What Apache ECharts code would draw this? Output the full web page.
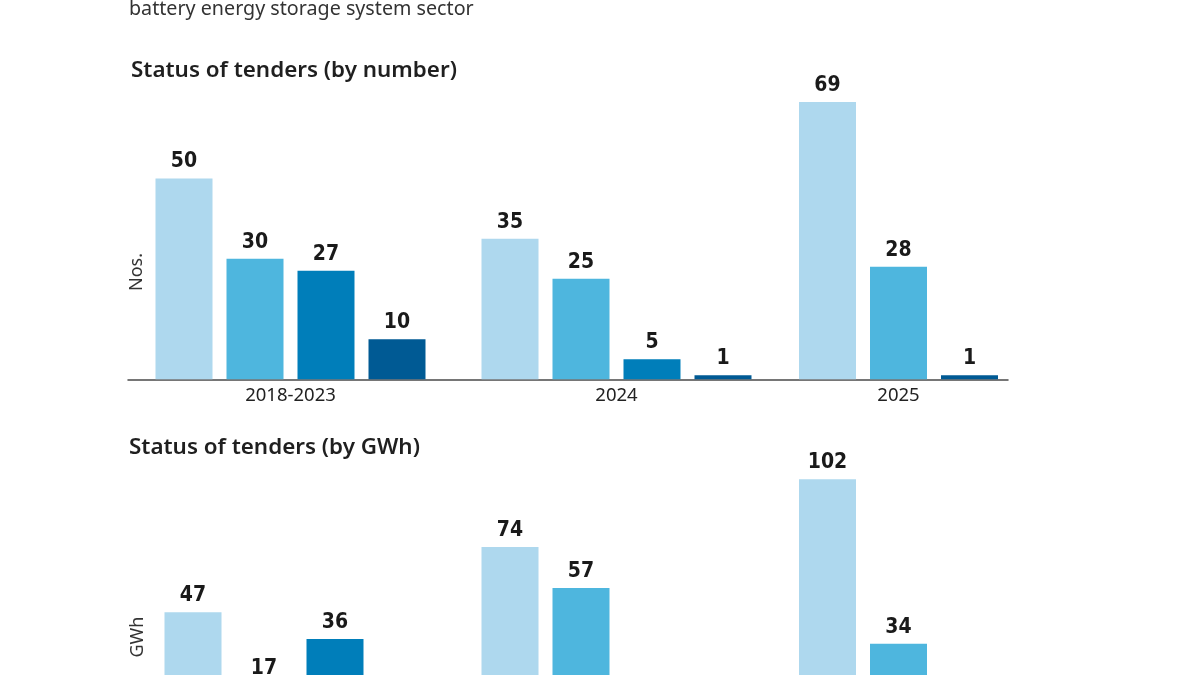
<!DOCTYPE html>
<html>
<head>
<meta charset="utf-8">
<script src="https://cdn.jsdelivr.net/npm/echarts@6/dist/echarts.min.js"></script>
<style>
html,body{margin:0;padding:0;background:#fff;}
#chart{width:1200px;height:675px;}
</style>
</head>
<body>
<div id="chart"></div>
<script>
// ---- data ----
const groups = ['2018-2023', '2024', '2025'];
const statusColors = ['#aed8ee', '#4eb6de', '#007eba', '#005a94'];
// Status of tenders (by number)
const numStatus1 = [50, 35, 69];
const numStatus2 = [30, 25, 28];
const numStatus3 = [27, 5, null];
const numStatus4 = [10, 1, 1];
// Status of tenders (by GWh) - lower values cut off in the picture are estimates
const gwhStatus1 = [47, 74, 102];
const gwhStatus2 = [17, 57, 34];
const gwhStatus3 = [36, 9, null];
const gwhStatus4 = [6, 2, 2];

const subtitleText = 'battery energy storage system sector';
const title1 = 'Status of tenders (by number)';
const title2 = 'Status of tenders (by GWh)';
const yName1 = 'Nos.';
const yName2 = 'GWh';

// ---- layout ----
const panels = [
  { series: [numStatus1, numStatus2, numStatus3, numStatus4], top: 78, height: 301.3, max: 75, centers: [290.5, 616.5, 898.5] },
  { series: [gwhStatus1, gwhStatus2, gwhStatus3, gwhStatus4], top: 459.8, height: 266.2, max: 110, centers: [299.5, 616.5, 898.5] }
];

const grids = [], xAxes = [], yAxes = [], series = [];

panels.forEach(function (p) {
  const fi = grids.length;
  grids.push({ left: 128, width: 880, top: p.top, height: p.height, containLabel: false, outerBoundsMode: 'none' });
  xAxes.push({ type: 'category', gridIndex: fi, data: [''], axisTick: { show: false }, axisLabel: { show: false },
    axisLine: { show: true, lineStyle: { color: '#4a4a4a', width: 1.5 } }, splitLine: { show: false } });
  yAxes.push({ type: 'value', gridIndex: fi, min: 0, max: p.max, show: false });

  groups.forEach(function (g, gi) {
    const idx = grids.length;
    grids.push({ left: p.centers[gi] - 150, width: 300, top: p.top, height: p.height, containLabel: false, outerBoundsMode: 'none' });
    xAxes.push({ type: 'category', gridIndex: idx, data: [g],
      axisTick: { show: false }, axisLine: { show: false },
      axisLabel: { show: true, margin: 7, fontSize: 18.5, color: '#222', fontFamily: "'Noto Sans', sans-serif" } });
    yAxes.push({ type: 'value', gridIndex: idx, min: 0, max: p.max, show: false });
    p.series.forEach(function (arr, si) {
      const v = arr[gi];
      if (v === null || v === undefined) return;
      series.push({
        type: 'bar', xAxisIndex: idx, yAxisIndex: idx, data: [v],
        barWidth: 57, barGap: '24.56%',
        itemStyle: { color: statusColors[si] },
        label: { show: true, position: 'top', distance: 6, fontSize: 21, fontWeight: 'bold',
          color: '#1a1a1a', fontFamily: "'Liberation Sans Narrow', 'DejaVu Sans Condensed', 'Noto Sans', sans-serif" },
        silent: true, animation: false, z: 3
      });
    });
  });
});

const chart = echarts.init(document.getElementById('chart'), null, { renderer: 'canvas' });
chart.setOption({
  animation: false,
  backgroundColor: '#ffffff',
  grid: grids,
  xAxis: xAxes,
  yAxis: yAxes,
  series: series,
  graphic: [
    { type: 'text', left: 129, top: -1, style: { text: subtitleText, fontSize: 19.7, fill: '#333', fontFamily: "'Noto Sans', sans-serif" } },
    { type: 'text', left: 131, top: 60, style: { text: title1, fontSize: 22.4, fontWeight: 600, fill: '#1f1f1f', fontFamily: "'Noto Sans', sans-serif" } },
    { type: 'text', left: 129, top: 437, style: { text: title2, fontSize: 22.4, fontWeight: 600, fill: '#1f1f1f', fontFamily: "'Noto Sans', sans-serif" } },
    { type: 'text', x: 137, y: 272, rotation: Math.PI / 2, style: { text: yName1, fontSize: 18, fill: '#333', align: 'center', verticalAlign: 'middle', fontFamily: "'Noto Sans', sans-serif" } },
    { type: 'text', x: 138, y: 637, rotation: Math.PI / 2, style: { text: yName2, fontSize: 18, fill: '#333', align: 'center', verticalAlign: 'middle', fontFamily: "'Noto Sans', sans-serif" } }
  ]
});
</script>
</body>
</html>
